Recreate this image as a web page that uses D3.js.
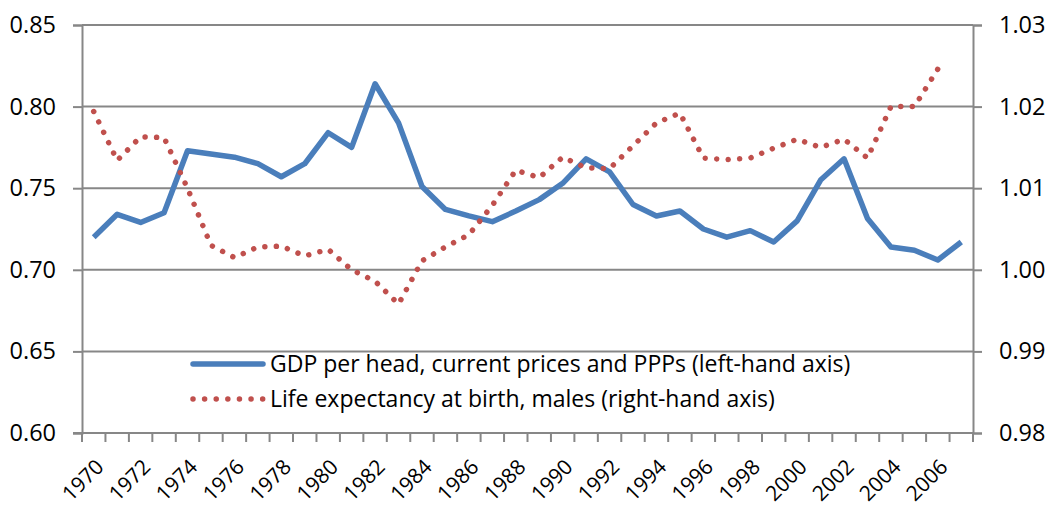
<!DOCTYPE html>
<html>
<head>
<meta charset="utf-8">
<script src="https://cdn.jsdelivr.net/npm/d3@7"></script>
<style>
  body { margin: 0; background: #fff; }
  svg text { font-family: "Open Sans", "Noto Sans", sans-serif; fill: #000; }
</style>
</head>
<body>
<svg id="chart"></svg>
<script>
// data
const years = d3.range(1970, 2008).map(String);
const gdpPerHead = [
  0.720, 0.734, 0.729, 0.735, 0.773, 0.771, 0.769, 0.765, 0.757, 0.765,
  0.784, 0.775, 0.814, 0.790, 0.751, 0.737, 0.733, 0.7295, 0.736, 0.743,
  0.753, 0.768, 0.760, 0.740, 0.733, 0.736, 0.725, 0.720, 0.724, 0.717,
  0.730, 0.755, 0.768, 0.7315, 0.714, 0.712, 0.706, 0.717
];
const lifeExpMales = [
  1.0194, 1.0134, 1.0163, 1.0162, 1.0100, 1.0030, 1.0015, 1.0028, 1.0029, 1.0017,
  1.0025, 1.0000, 0.9986, 0.9958, 1.0011, 1.0028, 1.0043, 1.0079, 1.0122, 1.0113,
  1.0138, 1.0125, 1.0124, 1.0152, 1.0180, 1.0192, 1.0137, 1.0135, 1.0137, 1.0149,
  1.0160, 1.0150, 1.0160, 1.0137, 1.0200, 1.0200, 1.0246, null
];
const leftTicks = [0.60, 0.65, 0.70, 0.75, 0.80, 0.85];
const rightTicks = [0.98, 0.99, 1.00, 1.01, 1.02, 1.03];
const xLabels = d3.range(1970, 2008, 2).map(String);
const legendLabels = [
  "GDP per head, current prices and PPPs (left-hand axis)",
  "Life expectancy at birth, males (right-hand axis)"
];

const width = 1050, height = 511;
const marginLeft = 82, marginRight = 77, marginTop = 25, marginBottom = 78;
const gray = "#878787";
const blue = "#4A7EBB", red = "#C0504D";

const svg = d3.select("#chart")
  .attr("width", width)
  .attr("height", height);

const x = d3.scaleBand()
  .domain(years)
  .range([marginLeft, width - marginRight]);
const cx = d => x(d) + x.bandwidth() / 2;

const yLeft = d3.scaleLinear()
  .domain([0.60, 0.85])
  .range([height - marginBottom, marginTop]);

const yRight = d3.scaleLinear()
  .domain([0.98, 1.03])
  .range([height - marginBottom, marginTop]);

// gridlines
svg.append("g")
  .selectAll("line")
  .data(leftTicks.slice(1))
  .join("line")
    .attr("x1", marginLeft)
    .attr("x2", width - marginRight)
    .attr("y1", d => yLeft(d))
    .attr("y2", d => yLeft(d))
    .attr("stroke", gray)
    .attr("stroke-width", 2);

// left axis
svg.append("g")
  .attr("transform", `translate(${marginLeft},0)`)
  .call(d3.axisLeft(yLeft).tickValues(leftTicks).tickFormat(d3.format(".2f")).tickSize(9).tickPadding(17))
  .call(g => g.select(".domain").attr("stroke", gray).attr("stroke-width", 2))
  .call(g => g.selectAll(".tick line").attr("stroke", gray).attr("stroke-width", 2))
  .call(g => g.selectAll("text").attr("font-size", 23.5).attr("fill", "#000"));

// right axis
svg.append("g")
  .attr("transform", `translate(${width - marginRight},0)`)
  .call(d3.axisRight(yRight).tickValues(rightTicks).tickFormat(d3.format(".2f")).tickSize(9).tickPadding(17))
  .call(g => g.select(".domain").attr("stroke", gray).attr("stroke-width", 2))
  .call(g => g.selectAll(".tick line").attr("stroke", gray).attr("stroke-width", 2))
  .call(g => g.selectAll("text").attr("font-size", 23.5).attr("fill", "#000"));

// bottom axis: ticks on category boundaries, labels every 2 years
const xAxisG = svg.append("g");
xAxisG.append("line")
  .attr("x1", marginLeft - 9)
  .attr("x2", width - marginRight)
  .attr("y1", yLeft(0.60))
  .attr("y2", yLeft(0.60))
  .attr("stroke", gray)
  .attr("stroke-width", 2);
xAxisG.selectAll("line.tick")
  .data(years.concat([null]))
  .join("line")
    .attr("class", "tick")
    .attr("x1", d => d === null ? x.range()[1] : x(d))
    .attr("x2", d => d === null ? x.range()[1] : x(d))
    .attr("y1", yLeft(0.60))
    .attr("y2", yLeft(0.60) + 9)
    .attr("stroke", gray)
    .attr("stroke-width", 2);
xAxisG.selectAll("text")
  .data(xLabels)
  .join("text")
    .attr("font-size", 21)
    .attr("text-anchor", "end")
    .attr("transform", d => `translate(${cx(d) + 6},${yLeft(0.60) + 30}) rotate(-45)`)
    .attr("dy", "0.35em")
    .text(d => d);

// GDP line
const gdpLine = d3.line()
  .x((d, i) => cx(years[i]))
  .y(d => yLeft(d));

svg.append("path")
  .datum(gdpPerHead)
  .attr("fill", "none")
  .attr("stroke", blue)
  .attr("stroke-width", 5.5)
  .attr("stroke-linejoin", "round")
  .attr("d", gdpLine);

// life expectancy line (dotted)
const lifeLine = d3.line()
  .defined(d => d !== null)
  .x((d, i) => cx(years[i]))
  .y(d => yRight(d));

svg.append("path")
  .datum(lifeExpMales)
  .attr("fill", "none")
  .attr("stroke", red)
  .attr("stroke-width", 5.5)
  .attr("stroke-linecap", "round")
  .attr("stroke-dasharray", "0.01 11.5")
  .attr("d", lifeLine);

// legend
const legend = svg.append("g").attr("transform", "translate(193,364)");
const rows = legend.selectAll("g")
  .data(legendLabels)
  .join("g")
    .attr("transform", (d, i) => `translate(0,${i * 35})`);
rows.append("line")
  .attr("x1", 0)
  .attr("x2", 70)
  .attr("stroke", (d, i) => i === 0 ? blue : red)
  .attr("stroke-width", 5.5)
  .attr("stroke-linecap", "round")
  .attr("stroke-dasharray", (d, i) => i === 0 ? null : "0.01 11.6");
rows.append("text")
  .attr("x", 77)
  .attr("dy", "0.35em")
  .attr("font-size", 23)
  .text(d => d);
</script>
</body>
</html>
